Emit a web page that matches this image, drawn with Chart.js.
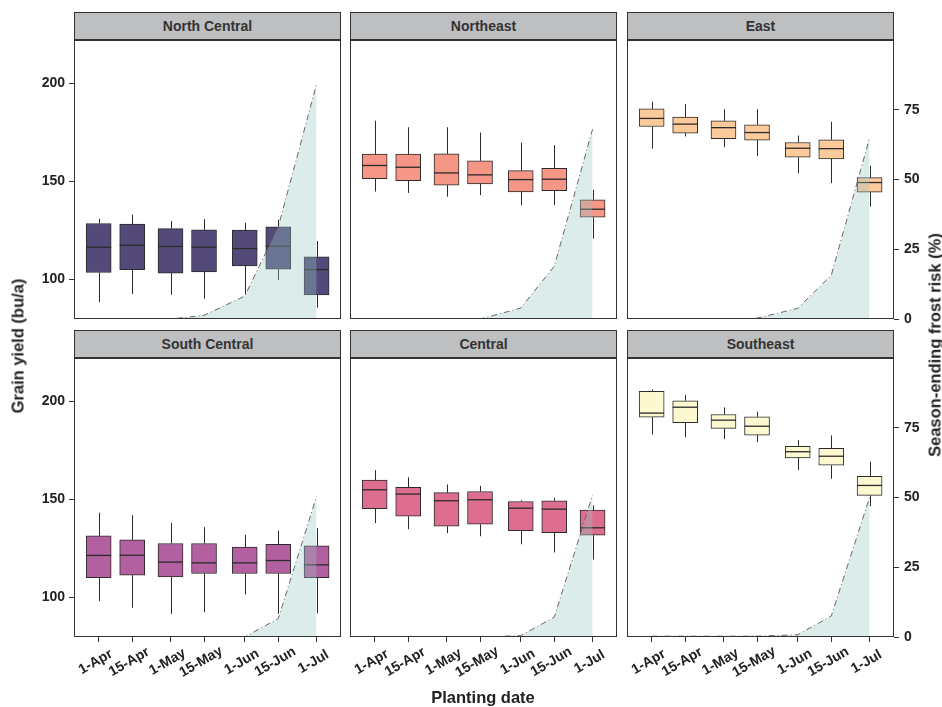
<!DOCTYPE html>
<html>
<head>
<meta charset="utf-8">
<script src="https://cdn.jsdelivr.net/npm/chart.js@4.4.1/dist/chart.umd.min.js"></script>
<style>
  body { margin: 0; width: 942px; height: 707px; background: #fff; position: relative; overflow: hidden;
         font-family: "Liberation Sans", Arial, sans-serif; }
  canvas { position: absolute; }
  .strip { position: absolute; box-sizing: border-box; height: 28px; background: #bebfc1; border: 1px solid #333;
           font-weight: bold; font-size: 14px; color: #333; text-align: center; line-height: 26px; }
  .title { position: absolute; font-weight: bold; font-size: 16.5px; color: #222; white-space: nowrap;
           transform: translate(-50%, -50%); }
</style>
</head>
<body>
<script>
// planting dates and their day offset from 1-Apr
const plantingDates = ['1-Apr', '15-Apr', '1-May', '15-May', '1-Jun', '15-Jun', '1-Jul'];
const plantingDays = [0, 14, 30, 44, 61, 75, 91];
const yieldTicks = [100, 150, 200];
const frostTicks = [0, 25, 50, 75];

// grain yield per planting date: [min, q1, median, q3, max]
const northCentralYield = [[88.3, 103.4, 116.3, 128.4, 130.8], [92.5, 104.9, 117.3, 128.1, 133.0], [92.0, 103.1, 116.7, 125.8, 129.7],
  [90.0, 103.7, 116.3, 125.2, 130.6], [92.5, 106.8, 115.6, 125.0, 128.7], [99.6, 105.1, 116.8, 126.7, 130.3], [85.5, 92.0, 104.9, 111.4, 119.5]];
const northeastYield = [[144.7, 151.3, 158.0, 163.8, 180.8], [144.0, 150.2, 157.1, 163.8, 177.5], [142.1, 148.0, 154.2, 163.9, 177.5],
  [142.9, 148.6, 153.2, 160.4, 174.8], [137.8, 144.5, 150.8, 155.4, 169.7], [137.8, 145.2, 151.0, 156.6, 168.4], [120.7, 131.6, 135.7, 140.5, 145.6]];
const eastYield = [[166.6, 177.9, 182.0, 186.9, 190.5], [172.8, 174.5, 179.1, 182.7, 189.3], [167.3, 171.7, 177.3, 180.8, 186.7],
  [162.8, 170.9, 174.8, 178.7, 186.7], [154.1, 162.2, 166.8, 169.7, 173.3], [149.0, 161.4, 166.6, 171.1, 180.3], [137.0, 144.4, 149.3, 151.8, 157.8]];
const southCentralYield = [[98.0, 109.9, 121.3, 131.3, 143.1], [94.6, 111.2, 121.4, 129.3, 141.8], [91.5, 110.4, 117.9, 127.4, 138.0],
  [92.3, 112.1, 117.5, 127.4, 135.7], [101.4, 112.1, 117.5, 125.5, 131.8], [91.5, 112.1, 118.7, 127.0, 133.9], [91.8, 109.9, 116.5, 126.2, 135.2]];
const centralYield = [[137.8, 145.1, 154.8, 159.7, 164.8], [134.7, 141.3, 152.6, 156.0, 161.2], [132.7, 136.2, 149.2, 153.3, 157.5],
  [131.1, 137.2, 149.7, 153.9, 156.8], [127.0, 133.9, 145.4, 148.8, 149.5], [122.8, 132.9, 144.9, 149.2, 150.7], [119.2, 131.6, 135.4, 144.4, 146.8]];
const southeastYield = [[183.0, 191.8, 193.9, 205.0, 206.0], [181.6, 189.0, 196.9, 200.2, 203.1], [180.6, 186.1, 190.3, 193.2, 196.8],
  [179.1, 182.7, 187.2, 192.0, 194.6], [164.8, 171.1, 174.2, 177.0, 180.1], [160.4, 167.3, 171.9, 175.9, 182.5], [146.4, 151.9, 157.0, 161.7, 169.1]];

// season-ending frost risk (%) per planting date
const northCentralFrost = [0, 0, 0, 1.3, 8.2, 33, 84.2];
const northeastFrost = [0, 0, 0, 0, 3.9, 18.9, 68];
const eastFrost = [0, 0, 0, 0.3, 3.8, 15.7, 64.9];
const southCentralFrost = [0, 0, 0, 0, 0, 6.6, 50.4];
const centralFrost = [0, 0, 0, 0, 0.5, 7.1, 50.9];
const southeastFrost = [0.3, 0.3, 0.3, 0.3, 0.8, 7.5, 50];

const panels = [
  { name: 'North Central', yield: northCentralYield, frost: northCentralFrost, color: '#544a79' },
  { name: 'Northeast', yield: northeastYield, frost: northeastFrost, color: '#f59687' },
  { name: 'East', yield: eastYield, frost: eastFrost, color: '#fdca9b' },
  { name: 'South Central', yield: southCentralYield, frost: southCentralFrost, color: '#b2609f' },
  { name: 'Central', yield: centralYield, frost: centralFrost, color: '#dd6e8f' },
  { name: 'Southeast', yield: southeastYield, frost: southeastFrost, color: '#fcf8d0' }
];

const FONT = '"Liberation Sans", Arial, sans-serif';
const colLeft = [74, 350, 627];
const rowTop = [40, 358];
const plotW = 267, plotH = 279, stripH = 28;

// whiskers + median on top of the floating bars
const boxParts = {
  id: 'boxParts',
  afterDatasetDraw(chart, args) {
    if (args.meta.type !== 'bar') return;
    const stats = chart.data.datasets[args.index].stats;
    const { ctx, chartArea } = chart;
    const xs = chart.scales.x, ys = chart.scales.y;
    ctx.save();
    ctx.beginPath();
    ctx.rect(chartArea.left, chartArea.top, chartArea.width, chartArea.height);
    ctx.clip();
    ctx.strokeStyle = '#2b2b2b';
    ctx.lineWidth = 1;
    args.meta.data.forEach((bar, k) => {
      const [lo, q1, med, q3, hi] = stats[k];
      const x = Math.round(xs.getPixelForValue(plantingDays[k])) + 0.5;
      const half = bar.width / 2;
      ctx.beginPath();
      ctx.moveTo(x, ys.getPixelForValue(q3));
      ctx.lineTo(x, ys.getPixelForValue(hi));
      ctx.moveTo(x, ys.getPixelForValue(q1));
      ctx.lineTo(x, ys.getPixelForValue(lo));
      ctx.stroke();
      ctx.beginPath();
      ctx.lineWidth = 1.3;
      const my = ys.getPixelForValue(med);
      ctx.moveTo(bar.x - half, my);
      ctx.lineTo(bar.x + half, my);
      ctx.stroke();
      ctx.lineWidth = 1;
    });
    ctx.restore();
  }
};

// rotated planting-date labels, centred on the tick
const dateLabels = {
  id: 'dateLabels',
  afterDraw(chart) {
    const xs = chart.scales.x;
    if (!xs.options.display) return;
    const ctx = chart.ctx;
    ctx.save();
    ctx.font = 'bold 14px ' + FONT;
    ctx.fillStyle = '#222';
    ctx.textAlign = 'center';
    ctx.textBaseline = 'middle';
    plantingDays.forEach((d, k) => {
      ctx.save();
      ctx.translate(xs.getPixelForValue(d) - 3, chart.chartArea.bottom + 25);
      ctx.rotate(-Math.PI / 6);
      ctx.fillText(plantingDates[k], 0, 0);
      ctx.restore();
    });
    ctx.restore();
  }
};

const panelBorder = {
  id: 'panelBorder',
  afterDraw(chart) {
    const { ctx, chartArea: a } = chart;
    ctx.save();
    ctx.strokeStyle = '#333';
    ctx.lineWidth = 1;
    ctx.strokeRect(a.left + 0.5, a.top + 0.5, a.width - 1, a.height - 1);
    ctx.restore();
  }
};

function addDiv(cls, text, style) {
  const d = document.createElement('div');
  d.className = cls;
  d.textContent = text;
  Object.assign(d.style, style);
  document.body.appendChild(d);
  return d;
}

// keep every panel's plot area the same size, whatever its axes
function fixSize(s, prop, size) {
  s[prop] = size;
  s.paddingTop = 0;
  s.paddingBottom = 0;
  s.paddingLeft = 0;
  s.paddingRight = 0;
}

panels.forEach((p, i) => {
  const col = i % 3, row = Math.floor(i / 3);
  const leftPad = col === 0 ? colLeft[0] : 0;
  const rightPad = col === 2 ? 942 - (colLeft[2] + plotW) : 0;
  const bottomPad = row === 1 ? 707 - (rowTop[1] + plotH) : 0;
  const spare = row === 0 ? 10 : 0; // room for the "0" label under the top row

  addDiv('strip', p.name, { left: colLeft[col] + 'px', top: (rowTop[row] - stripH) + 'px', width: plotW + 'px' });

  const canvas = document.createElement('canvas');
  canvas.width = plotW + leftPad + rightPad;
  canvas.height = plotH + bottomPad + spare;
  canvas.style.left = (colLeft[col] - leftPad) + 'px';
  canvas.style.top = rowTop[row] + 'px';
  document.body.appendChild(canvas);

  const tickFont = { family: FONT, size: 14, weight: 'bold' };
  const tickGrid = { drawOnChartArea: false, drawTicks: true, tickLength: 5, color: '#333', offset: false };

  new Chart(canvas.getContext('2d'), {
    type: 'bar',
    data: {
      datasets: [{
        type: 'bar',
        order: 2,
        data: p.yield.map((s, k) => ({ x: plantingDays[k], y: [s[1], s[3]] })),
        stats: p.yield,
        backgroundColor: p.color,
        borderColor: '#2b2b2b',
        borderWidth: 1,
        borderSkipped: false,
        barThickness: 25,
        yAxisID: 'y'
      }, {
        type: 'line',
        order: 1,
        data: p.frost.map((v, k) => ({ x: plantingDays[k], y: v })),
        yAxisID: 'y2',
        borderColor: '#666',
        borderWidth: 1,
        borderDash: [6, 3, 1, 3],
        backgroundColor: 'rgba(152, 199, 196, 0.34)',
        fill: 'origin',
        pointRadius: 0,
        tension: 0
      }]
    },
    options: {
      responsive: false,
      animation: false,
      layout: { padding: { top: 0, left: 0, right: 0, bottom: spare } },
      plugins: { legend: { display: false }, tooltip: { enabled: false } },
      scales: {
        x: {
          type: 'linear', min: -10.3, max: 101.2, offset: false, display: row === 1,
          afterBuildTicks: s => { s.ticks = plantingDays.map(v => ({ value: v })); },
          afterFit: s => fixSize(s, 'height', bottomPad),
          grid: tickGrid, border: { display: false }, ticks: { display: false }
        },
        y: {
          type: 'linear', position: 'left', min: 79.7, max: 222, display: col === 0,
          afterBuildTicks: s => { s.ticks = yieldTicks.map(v => ({ value: v })); },
          afterFit: s => fixSize(s, 'width', leftPad),
          grid: tickGrid, border: { display: false },
          ticks: { font: tickFont, color: '#222', padding: 4 }
        },
        y2: {
          type: 'linear', position: 'right', min: 0, max: 100, display: col === 2,
          afterBuildTicks: s => { s.ticks = frostTicks.map(v => ({ value: v })); },
          afterFit: s => fixSize(s, 'width', rightPad),
          grid: tickGrid, border: { display: false },
          ticks: { font: tickFont, color: '#222', padding: 5 }
        }
      }
    },
    plugins: [boxParts, dateLabels, panelBorder]
  });
});

addDiv('title', 'Grain yield (bu/a)', { left: '18px', top: '346px', transform: 'translate(-50%, -50%) rotate(-90deg)' });
addDiv('title', 'Season-ending frost risk (%)', { left: '935px', top: '345px', transform: 'translate(-50%, -50%) rotate(-90deg)' });
addDiv('title', 'Planting date', { left: '483px', top: '697px' });
</script>
</body>
</html>
